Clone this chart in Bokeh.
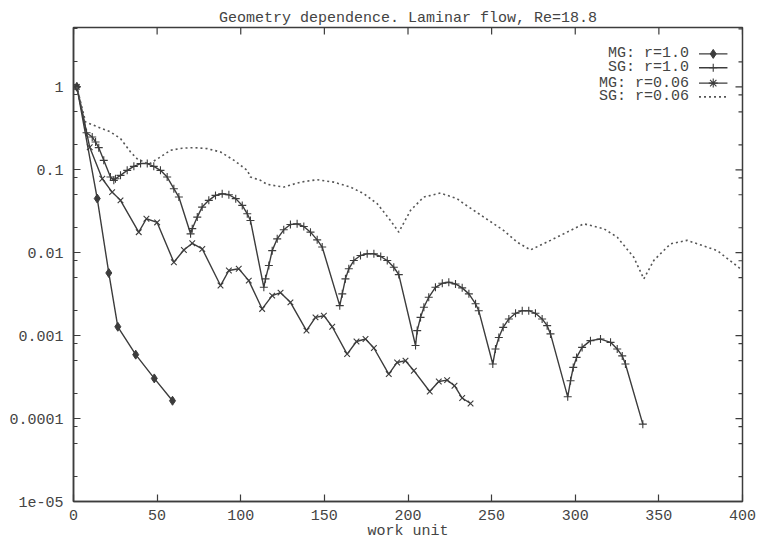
import math
from bokeh.plotting import figure
from bokeh.models import Range1d, FixedTicker
from bokeh.embed import file_html
from bokeh.resources import INLINE
from bokeh.core.properties import value

# --- data -------------------------------------------------------------
# MG, r=1.0
mg_r1_x = [2.0, 14.2, 21.1, 26.5, 37.2, 48.3, 59.2]
mg_r1_y = [1.0, 0.045, 0.0057, 0.00128, 0.00059, 0.000305, 0.000164]

# SG, r=1.0
sg_r1_x = [2.0, 7.8, 11.2, 13.2, 15.1, 18.1, 22.1, 24.1,
           25.1, 28.1, 32.1, 36.1, 40.1, 44.1, 48.0, 52.0, 56.0, 60.0, 63.0, 70.0,
           71.0, 74.0, 76.9, 80.9, 84.9, 88.9, 92.9, 97.0, 100.9, 103.9, 105.8, 113.8,
           114.8, 116.8, 118.8, 121.8, 125.7, 129.7, 133.7, 137.7, 141.7, 145.7, 148.7, 159.2,
           160.7, 162.6, 164.6, 167.6, 171.6, 175.6, 179.6, 183.7, 187.6, 191.5, 194.5, 204.5,
           205.5, 207.5, 209.5, 212.4, 216.4, 220.5, 224.4, 228.4, 232.4, 236.4, 240.4, 242.3, 250.7,
           252.3, 254.3, 256.9, 260.3, 264.3, 268.3, 272.2, 276.2, 280.2, 283.2, 285.2, 295.5,
           297.2, 298.8, 300.8, 304.1, 309.1, 315.1, 321.1, 325.1, 328.1, 330.0, 340.4]
sg_r1_y = [1.0, 0.28, 0.249, 0.216, 0.185, 0.13, 0.082, 0.0746,
           0.078, 0.0857, 0.0985, 0.110, 0.119, 0.119, 0.110, 0.0985, 0.0818, 0.0592, 0.0469, 0.0169,
           0.0195, 0.0269, 0.0355, 0.0428, 0.0491, 0.0515, 0.050, 0.0449, 0.0372, 0.0295, 0.0245, 0.00383,
           0.00484, 0.0070, 0.0106, 0.0147, 0.0189, 0.0219, 0.0223, 0.0207, 0.0177, 0.0143, 0.0117, 0.0023,
           0.00319, 0.00484, 0.0064, 0.00805, 0.00925, 0.0097, 0.0097, 0.0090, 0.00805, 0.00668, 0.00545, 0.00076,
           0.00115, 0.00166, 0.0022, 0.0029, 0.00383, 0.00428, 0.0044, 0.0042, 0.00377, 0.00319, 0.00242, 0.0020, 0.000455,
           0.00069, 0.00095, 0.00126, 0.00159, 0.00186, 0.0020, 0.0020, 0.00186, 0.00159, 0.00132, 0.00105, 0.000183,
           0.000286, 0.000414, 0.000547, 0.000722, 0.00087, 0.00091, 0.00083, 0.00069, 0.00057, 0.000455, 0.0000857]

# MG, r=0.06
mg_r006_x = [2.0, 9.7, 17.2, 23.1, 28.1, 39.0, 43.6, 50.0, 60.0, 66.0, 71.0, 77.0,
             87.9, 92.9, 98.8, 104.8, 112.8, 118.8, 123.8, 129.7, 139.3, 144.7, 149.7, 154.7,
             163.6, 169.2, 174.6, 179.6, 188.5, 193.5, 198.5, 203.5, 213.0, 218.4, 223.4, 227.8,
             232.4, 237.4]
mg_r006_y = [1.0, 0.187, 0.078, 0.0538, 0.0428, 0.0177, 0.0257, 0.0232, 0.00768, 0.0108, 0.013, 0.0111,
             0.00402, 0.0061, 0.0064, 0.00461, 0.0021, 0.00304, 0.0033, 0.00252, 0.00115, 0.00166, 0.00174, 0.00128,
             0.0006, 0.00085, 0.00091, 0.00071, 0.000344, 0.000475, 0.000499, 0.000378, 0.000212, 0.00028, 0.000291,
             0.000249, 0.000177, 0.000152]

# SG, r=0.06
sg_r006_x = [2.0, 7.2, 12.1, 22.1, 28.1, 34.1, 38.0, 45.0, 52.0, 58.0, 65.0, 71.9, 80.0, 87.9,
             96.0, 103.9, 105.8, 111.8, 115.8, 125.7, 135.7, 145.7, 155.6, 165.6, 173.6, 181.6,
             189.5, 194.5, 201.5, 209.4, 219.4, 229.4, 233.4, 245.3, 257.3, 265.3, 273.2, 285.2,
             305.1, 317.0, 325.1, 335.0, 341.0, 347.0, 357.0, 366.9, 384.9, 398.8]
sg_r006_y = [1.0, 0.378, 0.344, 0.286, 0.238, 0.164, 0.136, 0.117, 0.143, 0.172, 0.182, 0.185, 0.18, 0.164,
             0.13, 0.0985, 0.0818, 0.0746, 0.0667, 0.0619, 0.071, 0.076, 0.071, 0.0619, 0.0515, 0.039,
             0.0245, 0.0177, 0.0324, 0.0469, 0.0524, 0.0448, 0.039, 0.0269, 0.0185, 0.0134, 0.0108, 0.0141,
             0.0223, 0.0195, 0.0154, 0.0088, 0.00484, 0.0081, 0.0128, 0.0141, 0.0106, 0.0064]

series_labels = ["MG: r=1.0", "SG: r=1.0", "MG: r=0.06", "SG: r=0.06"]

x_ticks = [0, 50, 100, 150, 200, 250, 300, 350, 400]
y_ticks = [1e-05, 0.0001, 0.001, 0.01, 0.1, 1.0]
y_tick_labels = ["1e-05", "0.0001", "0.001", "0.01", "0.1", "1"]
y_minor_ticks = [m * d for d in y_ticks for m in (2, 5, 8) if m * d < 5.01]

X_MIN, X_MAX = 0, 400
Y_MIN, Y_MAX = 1e-5, 5.2

# --- figure -----------------------------------------------------------
FONT = "Liberation Mono"
INK = "#3c3c3c"
TXT = "#444444"

p = figure(width=757, height=543, y_axis_type="log",
           x_range=Range1d(X_MIN, X_MAX), y_range=Range1d(Y_MIN, Y_MAX),
           output_backend="svg", toolbar_location=None,
           min_border_left=73, min_border_right=15, min_border_top=27, min_border_bottom=42)

p.title.text = "Geometry dependence. Laminar flow, Re=18.8"
p.title.align = "center"
p.title.text_font = FONT
p.title.text_font_size = "15px"
p.title.text_font_style = "normal"
p.title.text_color = TXT
p.title.standoff = 2
p.title.offset = 0

p.grid.visible = False
p.background_fill_color = "white"
p.border_fill_color = "white"
p.outline_line_color = INK
p.outline_line_width = 1.5

xt = FixedTicker(ticks=x_ticks)
yt = FixedTicker(ticks=y_ticks, minor_ticks=y_minor_ticks)

def style_axis(ax):
    ax.axis_line_color = INK
    ax.axis_line_width = 1.5
    ax.major_tick_line_color = INK
    ax.minor_tick_line_color = INK
    ax.major_tick_line_width = 1.2
    ax.minor_tick_line_width = 1.2
    ax.major_tick_in = 7
    ax.major_tick_out = 0
    ax.minor_tick_in = 4
    ax.minor_tick_out = 0
    ax.major_label_text_font = FONT
    ax.major_label_text_font_size = "15px"
    ax.major_label_text_color = TXT

xa = p.xaxis[0]
xa.ticker = xt
style_axis(xa)
xa.major_label_standoff = 8
xa.axis_label = "work unit"
xa.axis_label_text_font = FONT
xa.axis_label_text_font_size = "15px"
xa.axis_label_text_font_style = "normal"
xa.axis_label_text_color = TXT
xa.axis_label_standoff = 0

ya = p.yaxis[0]
ya.ticker = yt
style_axis(ya)
ya.major_label_standoff = 10
ya.major_label_overrides = dict(zip(y_ticks, y_tick_labels))

# mirrored tick marks on the top and right edges: centred dashes whose
# outer half is clipped away by the frame
p.scatter(x_ticks, [Y_MAX] * len(x_ticks), marker="dash", angle=math.pi / 2,
          size=14, line_color=INK, line_width=1.2)
p.scatter([X_MAX] * len(y_ticks), y_ticks, marker="dash", size=14, line_color=INK, line_width=1.2)
p.scatter([X_MAX] * len(y_minor_ticks), y_minor_ticks, marker="dash", size=8,
          line_color=INK, line_width=1.2)

# --- curves -------------------------------------------------------------
LW = 1.4
p.line(mg_r1_x, mg_r1_y, line_color=INK, line_width=LW)
p.scatter(mg_r1_x, mg_r1_y, marker="diamond", size=9, fill_color=INK, line_color=INK)

p.line(sg_r1_x, sg_r1_y, line_color=INK, line_width=LW)
p.scatter(sg_r1_x, sg_r1_y, marker="cross", size=8, line_color=INK, line_width=1.1)

p.line(mg_r006_x, mg_r006_y, line_color=INK, line_width=LW)
p.scatter(mg_r006_x, mg_r006_y, marker="x", size=8, line_color=INK, line_width=1.1)

p.line(sg_r006_x, sg_r006_y, line_color="#555555", line_width=1.6, line_dash="2 3")

# --- key (text left of the sample, top right) ---------------------------
key_y = [2.5, 1.70, 1.11, 0.757]
p.text(x=[368] * 4, y=key_y, text=series_labels, text_align="right", text_baseline="middle",
       text_font=value(FONT), text_font_size="15px", text_color=TXT)
p.segment(x0=[374] * 3, x1=[391] * 3, y0=key_y[:3], y1=key_y[:3], line_color=INK, line_width=LW)
p.scatter([382.5], [key_y[0]], marker="diamond", size=9, fill_color=INK, line_color=INK)
p.scatter([382.5], [key_y[1]], marker="cross", size=8, line_color=INK, line_width=1.1)
p.scatter([382.5], [key_y[2]], marker="asterisk", size=9, line_color=INK, line_width=1.1)
p.segment(x0=[374], x1=[391], y0=[key_y[3]], y1=[key_y[3]], line_color="#555555",
          line_width=1.6, line_dash="2 3")

open("out.html", "w").write(file_html(p, INLINE))
